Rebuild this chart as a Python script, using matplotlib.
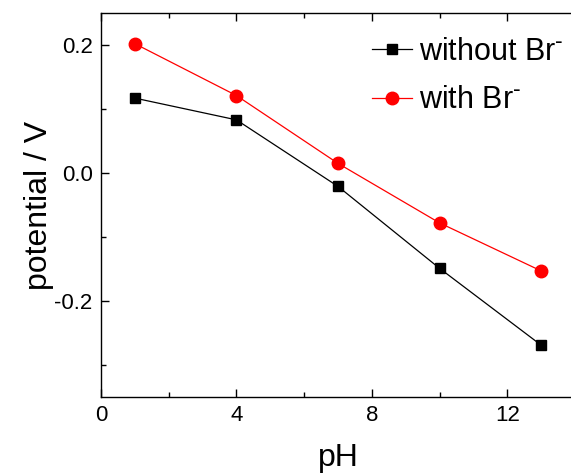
import matplotlib
matplotlib.use("Agg")
import matplotlib.pyplot as plt
from matplotlib.ticker import MultipleLocator

plt.rcParams['font.family'] = ['Liberation Sans', 'DejaVu Sans']
plt.rcParams['mathtext.fontset'] = 'custom'
plt.rcParams['mathtext.rm'] = 'Liberation Sans Narrow'
plt.rcParams['mathtext.it'] = 'Liberation Sans Narrow'
plt.rcParams['mathtext.bf'] = 'Liberation Sans Narrow:bold'

# données
ph = [1, 4, 7, 10, 13]
sans_br = [0.117, 0.083, -0.021, -0.149, -0.269]
avec_br = [0.202, 0.121, 0.015, -0.078, -0.153]
labels = [r'without Br$^{\mathbf{\text{-}}}$', r'with Br$^{\mathbf{\text{-}}}$']

fig = plt.figure(figsize=(5.71, 4.73), dpi=100)
ax = fig.add_axes([0.177, 0.1607, 0.830, 0.8118])

ax.plot(ph, sans_br, color='black', lw=0.9, marker='s', ms=7.5, label=labels[0])
ax.plot(ph, avec_br, color='red', lw=0.9, marker='o', ms=9, label=labels[1])

ax.set_xlim(0, 14)
ax.set_ylim(-0.35, 0.25)
ax.xaxis.set_major_locator(MultipleLocator(4))
ax.xaxis.set_minor_locator(MultipleLocator(2))
ax.yaxis.set_minor_locator(MultipleLocator(0.1))
ax.set_yticks([-0.2, 0.0, 0.2])
ax.set_yticklabels(['-0.2', '0.0', '0.2'])

ax.tick_params(which='both', direction='in', top=True, right=False, labelsize=16, width=1)
ax.tick_params(which='major', length=6, pad=6)
ax.tick_params(which='minor', length=3.5)
for s in ax.spines.values():
    s.set_linewidth(1)

ax.set_xlabel('pH', fontsize=23, labelpad=12)
ax.set_ylabel('potential / V', fontsize=23, labelpad=0)

leg = ax.legend(loc='upper left', bbox_to_anchor=(0.533, 0.985), frameon=False,
                prop={'family': ['Liberation Sans Narrow', 'Liberation Sans'], 'size': 22},
                handlelength=1.3, handletextpad=0.25, labelspacing=0.6, borderaxespad=0.2)

fig.savefig('out.png', dpi=100)
